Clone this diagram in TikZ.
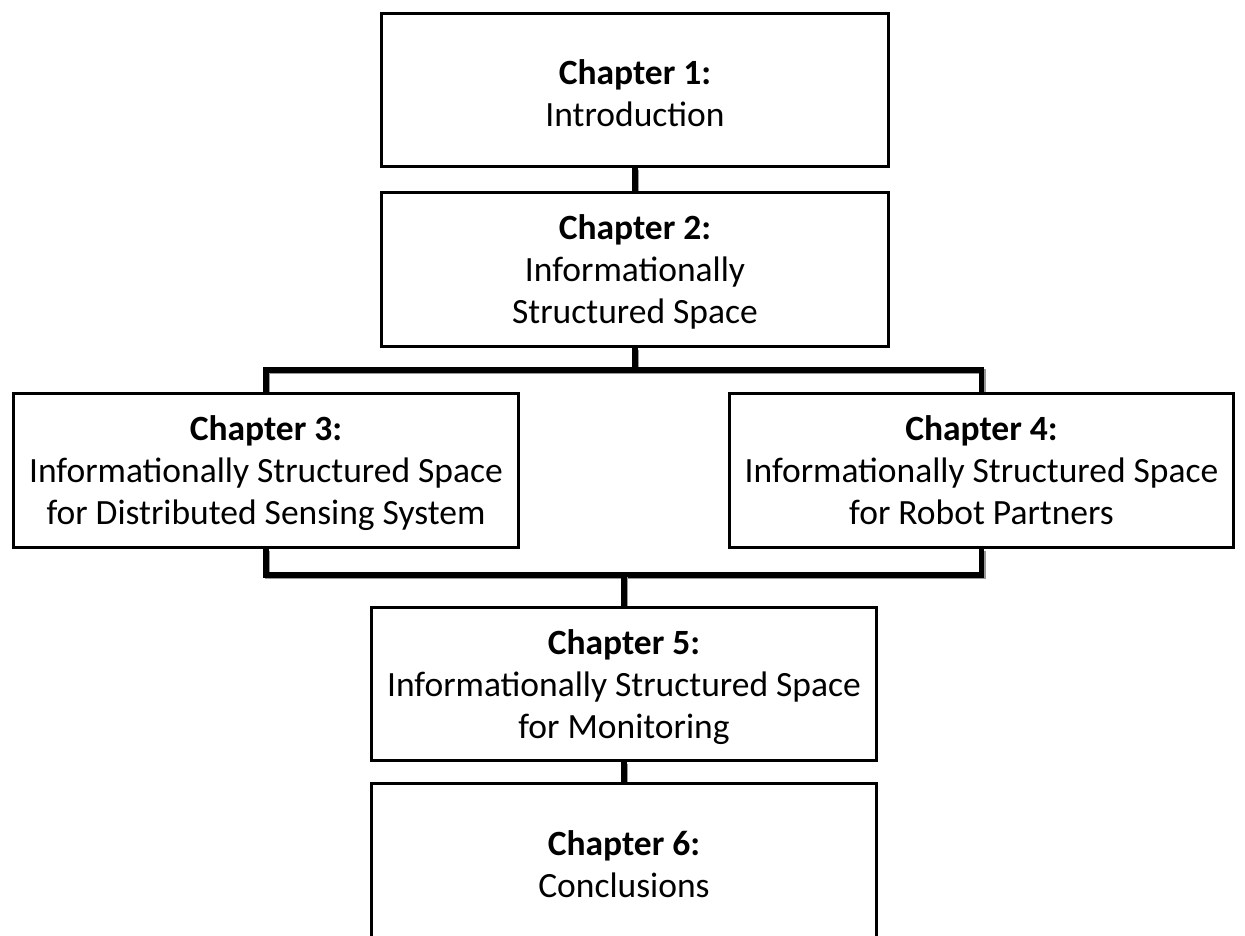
\documentclass[tikz,border=0pt]{standalone}
\usepackage{fontspec}
\setmainfont{Carlito}
\usetikzlibrary{shadows,backgrounds,calc}
% invisible struts that fix the first baseline and the last depth of a label
\newcommand\chtwotop{\rule{0pt}{36pt}}
\newcommand\chtwobot{\rule[-6pt]{0pt}{6pt}}
\newcommand\chthreetop{\rule{0pt}{33pt}}
\newcommand\chthreebot{\rule[-9pt]{0pt}{9pt}}
\begin{document}
\begin{tikzpicture}[x=1pt, y=-1pt,
  chapbox/.style={draw=black, fill=white, line width=3pt, inner sep=0pt,
    align=center, font=\fontsize{35.5}{42}\selectfont,
    drop shadow={shadow xshift=1.5pt, shadow yshift=-1.5pt, opacity=0.25}},
  link/.style={draw=black, line width=5.5pt, line join=miter,
    preaction={draw=black!40, line width=5.5pt,
      transform canvas={shift={(1.5pt,-1.5pt)}}}}
]
\useasboundingbox (0,0) rectangle (1245,935);
\clip (0,0) rectangle (1245,935);

% chapter boxes
\node[chapbox, minimum width=507pt, minimum height=153pt] (c1) at (635,90)
  {\chtwotop\textbf{Chapter 1:}\\Introduction\chtwobot};
\node[chapbox, minimum width=507pt, minimum height=154pt] (c2) at (635,269.5)
  {\chthreetop\textbf{Chapter 2:}\\Informationally\\Structured Space\chthreebot};
\node[chapbox, minimum width=505pt, minimum height=154pt] (c3) at (266,470.5)
  {\chthreetop\textbf{Chapter 3:}\\Informationally Structured Space\\for Distributed Sensing System\chthreebot};
\node[chapbox, minimum width=504pt, minimum height=154pt] (c4) at (981.5,470.5)
  {\chthreetop\textbf{Chapter 4:}\\Informationally Structured Space\\for Robot Partners\chthreebot};
\node[chapbox, minimum width=505pt, minimum height=153pt] (c5) at (624,684)
  {\chthreetop\textbf{Chapter 5:}\\Informationally Structured Space\\for Monitoring\chthreebot};
\node[chapbox, minimum width=505pt, minimum height=155pt] (c6) at (624,861)
  {\chtwotop\textbf{Chapter 6:}\\Conclusions\chtwobot};

% junction points where the connectors branch and join
\coordinate (split) at ($(c2.south)+(0,22)$);
\coordinate (merge) at ($(c5.north)+(0,-31)$);

% connectors, kept behind the boxes
\begin{scope}[on background layer]
\path[link] (c1.south) -- (c2.north);
\path[link] (c2.south) -- (split);
\path[link] (c3.north) |- (split) -| (c4.north);
\path[link] (c3.south) |- (merge) -| (c4.south);
\path[link] (merge) -- (c5.north);
\path[link] (c5.south) -- (c6.north);
\end{scope}
\end{tikzpicture}
\end{document}
